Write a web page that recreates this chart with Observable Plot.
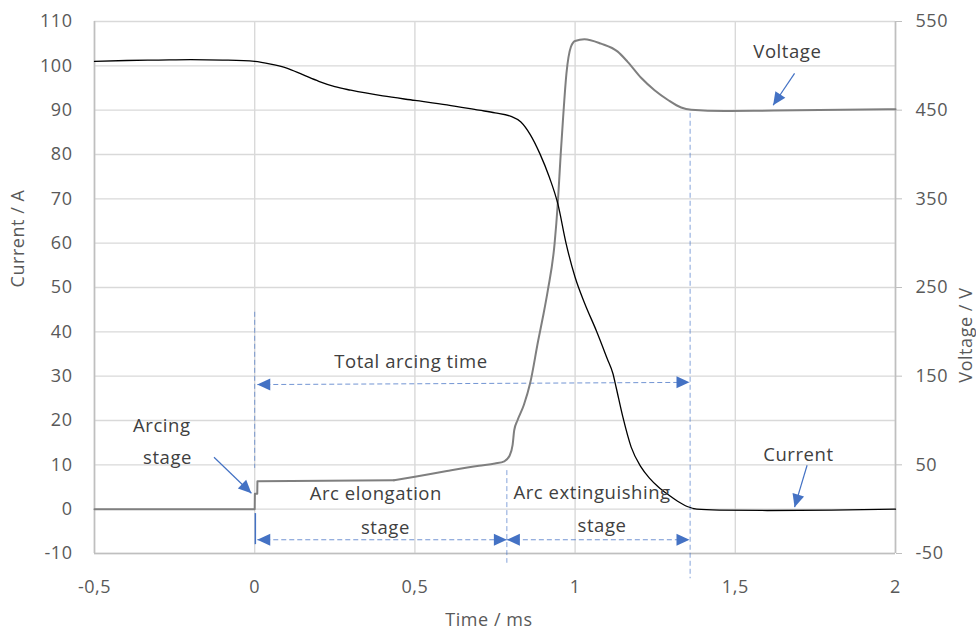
<!DOCTYPE html>
<html><head><meta charset="utf-8">
<script src="https://cdn.jsdelivr.net/npm/d3@7"></script>
<script src="https://cdn.jsdelivr.net/npm/@observablehq/plot@0.6"></script>
<style>
body{margin:0;background:#fff;}
#chart svg{display:block;}
</style></head><body><div id="chart"></div>
<script>
// ---- data (time in ms) ----
const timeCurrent = [-0.5,-0.4,-0.3,-0.2,-0.1,0,0.05,0.1,0.15,0.2,0.25,0.3,0.4,0.5,0.6,0.7,0.75,0.8,0.83,0.86,0.89,0.92,0.946,0.972,1.0,1.03,1.066,1.1,1.118,1.128,1.149,1.175,1.205,1.232,1.26,1.29,1.32,1.35,1.38,1.45,1.6,1.8,2.0];
const currentA    = [101.0,101.2,101.3,101.4,101.3,101.0,100.4,99.5,98.0,96.5,95.3,94.5,93.2,92.2,91.2,90.0,89.4,88.6,87.4,84.5,80.2,74.8,68.9,59.9,52.3,46.4,40.3,34.0,30.6,27.5,20.8,14.0,9.6,7.0,5.0,3.3,1.8,0.6,0.0,-0.2,-0.3,-0.2,0.0];

const timeVoltage = [-0.5,0,0.0005,0.008,0.0085,0.435,0.5,0.6,0.7,0.75,0.779,0.795,0.805,0.81,0.82,0.84,0.86,0.885,0.9,0.915,0.936,0.946,0.955,0.962,0.973,0.987,1.0,1.029,1.081,1.133,1.164,1.206,1.248,1.29,1.331,1.3625,1.466,1.62,2.0];
const voltageV    = [0,0,17.5,17.5,31.5,32.5,36.5,43,49,51.5,54,60,72.5,89,100,117.5,142.5,190.5,217.5,247,299.5,345,400,438.5,491.5,521.5,528,530,525,516,504.5,486.5,472.5,461.5,453,450.5,449,449.5,451];

const xTicks = [-0.5,0,0.5,1,1.5,2];
const currentTicks = [-10,0,10,20,30,40,50,60,70,80,90,100,110];
const voltageTicks = [-50,50,150,250,350,450,550];

// annotations (data units)
const labelTexts = [
  {t:0.4875, v:33.2, text:"Total arcing time"},
  {t:-0.29, v:18.8, text:"Arcing"},
  {t:-0.272, v:11.5, text:"stage"},
  {t:0.378, v:3.5, text:"Arc elongation"},
  {t:0.408, v:-4.2, text:"stage"},
  {t:1.053, v:3.7, text:"Arc extinguishing"},
  {t:1.084, v:-3.8, text:"stage"},
  {t:1.6625, v:103.2, text:"Voltage"},
  {t:1.697, v:12.3, text:"Current"}
];
const dashedH = [
  {t1:0.008, v1:28.1, t2:1.357, v2:28.6},
  {t1:0.008, v1:-6.9, t2:0.787, v2:-6.9},
  {t1:0.787, v1:-6.9, t2:1.357, v2:-6.9}
];
const dashedV = [
  {t:0, v1:44.4, v2:9.2},
  {t:0.787, v1:8.7, v2:-12.2},
  {t:1.359, v1:89.3, v2:-15.7}
];
const solidV = [{t:0.002, v1:-1.0, v2:-8.0}];
const headsH = [
  {t:0.008, v:28.1, dir:270},
  {t:1.357, v:28.6, dir:90},
  {t:0.008, v:-6.9, dir:270},
  {t:0.787, v:-6.9, dir:90},
  {t:0.787, v:-6.9, dir:270},
  {t:1.357, v:-6.9, dir:90}
];
const pointers = [
  {t1:-0.127, v1:11.7, t2:-0.0103, v2:3.6},
  {t1:1.685, v1:98.3, t2:1.618, v2:91.1},
  {t1:1.7241, v1:9.9, t2:1.685, v2:0.45}
];

// ---- layout ----
const W = 976, H = 630, mL = 94, mR = 81, mT = 21, mB = 77;
const kx = (W - mL - mR) / 2.5, ky = (H - mT - mB) / 120;
const angleOf = p => Math.atan2((p.t2 - p.t1) * kx, (p.v2 - p.v1) * ky) * 180 / Math.PI;

const currentData = timeCurrent.map((t, i) => ({t, a: currentA[i]}));
const voltageData = timeVoltage.map((t, i) => ({t, u: voltageV[i]}));
const stepPart = voltageData.filter(d => d.t <= 0.435);
const smoothPart = voltageData.filter(d => d.t >= 0.435);

const blue = "#4472c4";
const head = {
  draw(ctx, l, r) {
    ctx.moveTo(0, -l);
    ctx.lineTo(-r, 0);
    ctx.lineTo(r, 0);
    ctx.closePath();
  }
};
const fmt = d => String(d).replace(".", ",");

const chart = Plot.plot({
  width: W, height: H,
  marginLeft: mL, marginRight: mR, marginTop: mT, marginBottom: mB,
  x: {domain: [-0.5, 2]},
  y: {domain: [-10, 110]},
  style: {fontFamily: "'Open Sans', sans-serif", fontSize: "18px", background: "#fff", color: "#595959", letterSpacing: "0.55px"},
  marks: [
    Plot.gridX({ticks: xTicks, stroke: "#d9d9d9", strokeOpacity: 1, strokeWidth: 1.4}),
    Plot.gridY({ticks: currentTicks, stroke: "#d9d9d9", strokeOpacity: 1, strokeWidth: 1.4}),
    Plot.ruleX([-0.5, 2], {stroke: "#bfbfbf", strokeWidth: 1.6}),
    Plot.ruleY([-10], {stroke: "#bfbfbf", strokeWidth: 1.6}),
    Plot.axisX({ticks: xTicks, tickSize: 0, tickPadding: 27, tickFormat: fmt, label: null, fill: "#595959"}),
    Plot.axisY({anchor: "left", ticks: currentTicks, tickSize: 0, tickPadding: 22, tickFormat: d => String(d), label: null, fill: "#595959"}),
    Plot.axisY({anchor: "right", ticks: voltageTicks.map(v => v / 5), tickSize: 6, tickPadding: 14, tickFormat: d => String(Math.round(d * 5)), label: null, stroke: "#bfbfbf", fill: "#595959"}),
    Plot.text(["Current / A"], {frameAnchor: "left", dx: -76, rotate: -90, text: d => d, fill: "#595959", fontSize: 18}),
    Plot.text(["Voltage / V"], {frameAnchor: "right", dx: 71, rotate: -90, text: d => d, fill: "#595959", fontSize: 18}),
    Plot.text(["Time / ms"], {frameAnchor: "bottom", dx: -6, dy: 72, text: d => d, fill: "#595959", fontSize: 18}),

    // annotation guides
    Plot.ruleX(dashedV, {x: "t", y1: "v1", y2: "v2", stroke: blue, strokeOpacity: 0.65, strokeWidth: 1, strokeDasharray: "5,3"}),
    Plot.ruleX(solidV, {x: "t", y1: "v1", y2: "v2", stroke: blue, strokeWidth: 1.5}),
    Plot.link(dashedH, {x1: "t1", y1: "v1", x2: "t2", y2: "v2", stroke: blue, strokeOpacity: 0.75, strokeWidth: 1, strokeDasharray: "5,3"}),

    // series
    Plot.line(stepPart, {x: "t", y: d => d.u / 5, stroke: "#7f7f7f", strokeWidth: 2, curve: "linear"}),
    Plot.line(smoothPart, {x: "t", y: d => d.u / 5, stroke: "#7f7f7f", strokeWidth: 2, curve: "monotone-x"}),
    Plot.line(currentData, {x: "t", y: "a", stroke: "#000", strokeWidth: 1.3, curve: "monotone-x"}),

    // arrows
    Plot.link(pointers, {x1: "t1", y1: "v1", x2: "t2", y2: "v2", stroke: blue, strokeWidth: 1.2}),
    Plot.vector(pointers, {x: "t2", y: "v2", rotate: angleOf, length: 13, r: 6, anchor: "end", shape: head, fill: blue, stroke: "none"}),
    Plot.vector(headsH, {x: "t", y: "v", rotate: "dir", length: 13, r: 6, anchor: "end", shape: head, fill: blue, stroke: "none"}),

    Plot.text(labelTexts, {x: "t", y: "v", text: "text", fill: "#404040", fontSize: 18.5})
  ]
});
document.getElementById("chart").append(chart);
</script>
</body></html>
